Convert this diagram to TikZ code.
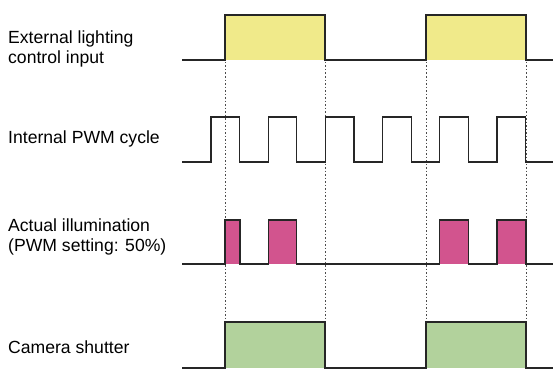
\documentclass[tikz,border=0pt]{standalone}
\usepackage{fontspec}
\setmainfont{Liberation Sans}
\usepackage{xcolor}
\usepackage{tikz}
\definecolor{ctrlyellow}{RGB}{240,234,138}
\definecolor{lightpink}{RGB}{210,84,142}
\definecolor{shuttergreen}{RGB}{178,210,156}

\begin{document}
\begin{tikzpicture}[x=1pt, y=-1pt,
    every node/.style={font=\fontsize{17.6}{20}\selectfont, anchor=west, align=left, inner sep=0pt},
    wave/.style={draw=black!85, line width=1.2pt},
    guide/.style={draw=black!70, line width=0.7pt, dash pattern=on 1.5pt off 2pt}]
            \useasboundingbox (0,0) rectangle (554,369);
            % signal names
            \node (ext) at (8,49) {External lighting\\control input};
            \node (pwm) at (8,139) {Internal PWM cycle};
            \node (ill) at (8,237) {Actual illumination\\(PWM setting: 50\%)};
            \node (cam) at (8,347) {Camera shutter};
            % fills
            \foreach \a/\b in {225/325, 426/526} {
                \fill[ctrlyellow] (\a,15) rectangle (\b,60);
                \fill[shuttergreen] (\a,322) rectangle (\b,368);
            }
            \foreach \a/\b in {225/240, 268.2/296.8, 439.8/468.4, 497/526} {
                \fill[lightpink] (\a,220) rectangle (\b,264);
            }
            % dotted guides
            \foreach \a in {225, 325, 426, 526} {
                \draw[guide] (\a,62) -- (\a,322);
            }
            % waveforms
            \draw[wave] (182,60) -| (225,15) -| (325,60) -| (426,15) -| (526,60) -- (553,60);
            \draw[wave] (182,162) foreach \k in {0,...,5} {
                -| ({211+57.2*\k},117) -| ({239.6+57.2*\k},162) } -- (553,162);
            \draw[wave] (182,264) foreach \a/\b in {225/240, 268.2/296.8, 439.8/468.4, 497/526} {
                -| (\a,220) -| (\b,264) } -- (553,264);
            \draw[wave] (182,368) -| (225,322) -| (325,368) -| (426,322) -| (526,368) -- (553,368);
        \end{tikzpicture}
\end{document}
